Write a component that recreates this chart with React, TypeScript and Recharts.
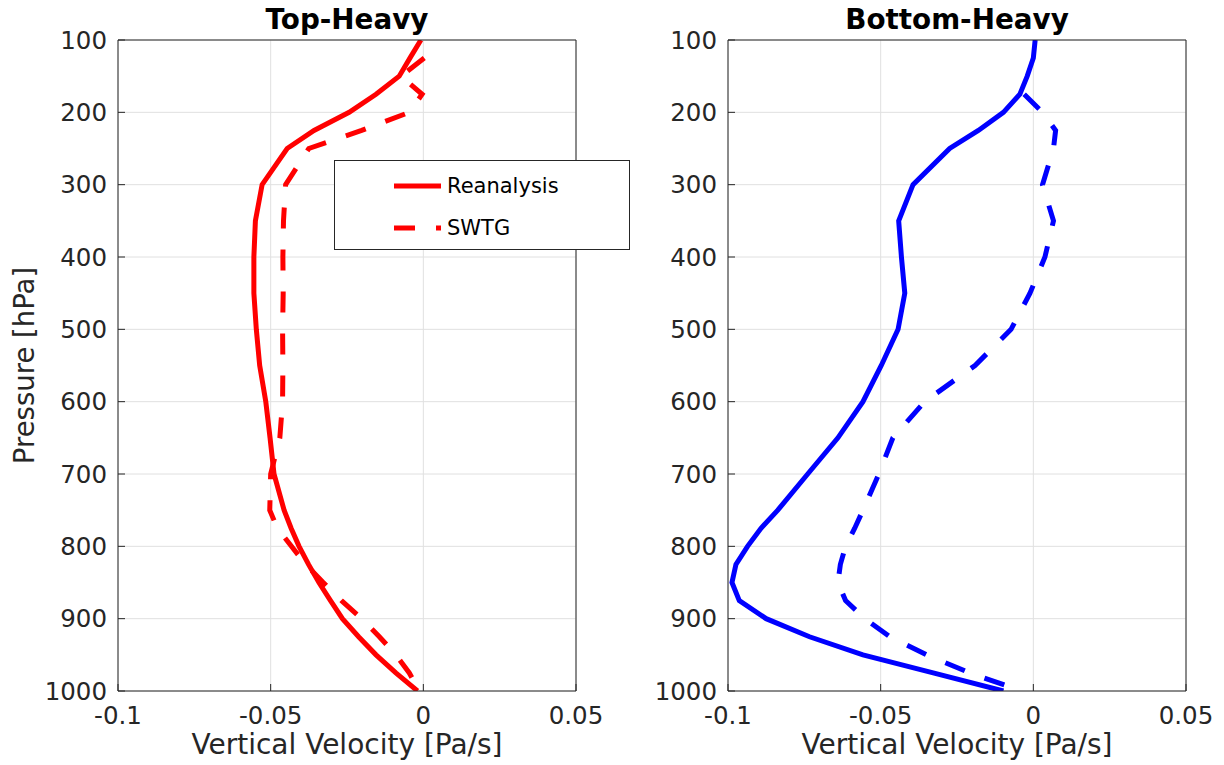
import React from 'react';
import { LineChart, Line, XAxis, YAxis, CartesianGrid, Legend, Label } from 'recharts';

// Pressure levels (hPa) shared by all profiles
const levels = [100, 125, 150, 175, 200, 225, 250, 300, 350, 400, 450, 500, 550, 600, 650, 700, 750, 775, 800, 825, 850, 875, 900, 925, 950, 975, 1000];

// Top-heavy case, omega in Pa/s
const topReanalysis = [-0.0008, -0.0044, -0.0079, -0.0155, -0.0243, -0.0358, -0.0446, -0.0528, -0.055, -0.0555, -0.0555, -0.0547, -0.0536, -0.0516, -0.0502, -0.0489, -0.0456, -0.0433, -0.0407, -0.0376, -0.0342, -0.0304, -0.0265, -0.0212, -0.0155, -0.009, -0.0019];
const topSwtg = [null, 0.0003, -0.0073, -0.0004, -0.0046, -0.0202, -0.0375, -0.0451, -0.0458, -0.046, -0.0459, -0.0461, -0.046, -0.0461, -0.047, -0.05, -0.0503, -0.0478, -0.0432, -0.0385, -0.0328, -0.0268, -0.0202, -0.0144, -0.009, -0.0046, -0.0013];

// Bottom-heavy case
const bottomReanalysis = [0.0006, 0.0, -0.002, -0.0044, -0.0098, -0.018, -0.0274, -0.0394, -0.0441, -0.0432, -0.0421, -0.0443, -0.0498, -0.0558, -0.064, -0.0739, -0.0837, -0.0892, -0.0936, -0.0974, -0.0987, -0.0963, -0.0875, -0.0733, -0.0558, -0.0328, -0.0098];
const bottomSwtg = [null, null, null, -0.003, 0.003, 0.0073, 0.0066, 0.003, 0.0066, 0.0038, -0.0011, -0.0073, -0.0191, -0.0356, -0.046, -0.0506, -0.0558, -0.0585, -0.0615, -0.0632, -0.064, -0.0615, -0.0552, -0.047, -0.035, -0.0208, -0.0038];

const velocityTicks = [-0.1, -0.05, 0, 0.05];
const pressureTicks = [100, 200, 300, 400, 500, 600, 700, 800, 900, 1000];

const FONT = '"DejaVu Sans", Verdana, sans-serif';
const INK = '#262626';
const GRID = '#e0e0e0';
const DASH = '21 21';

const toRows = (rean: (number | null)[], swtg: (number | null)[]) =>
  levels.map((p, i) => ({ p, reanalysis: rean[i], swtg: swtg[i] }));

const PressureLabel = ({ viewBox }: any) => {
  const cx = viewBox.x - 4.5;
  const cy = viewBox.y + viewBox.height / 2;
  return (
    <text x={cx} y={cy} transform={`rotate(-90 ${cx} ${cy})`} textAnchor="middle"
      fontSize={27.5} fontFamily={FONT} fill={INK}>
      Pressure [hPa]
    </text>
  );
};

const LegendBox = ({ payload }: any) => (
  <div style={{
    width: 296, height: 90, boxSizing: 'border-box', border: `1px solid ${INK}`,
    background: '#fff', position: 'relative', fontFamily: FONT, fontSize: 21, color: '#000',
  }}>
    {(payload || []).map((entry: any, i: number) => (
      <div key={entry.value} style={{
        position: 'absolute', left: 59, top: 13 + i * 42, height: 24,
        display: 'flex', alignItems: 'center', whiteSpace: 'nowrap',
      }}>
        <svg width={47} height={24}>
          <line x1={0} x2={47} y1={12} y2={12} stroke={entry.color} strokeWidth={5}
            strokeDasharray={entry.dataKey === 'swtg' ? DASH : undefined} />
        </svg>
        <span style={{ marginLeft: 6, lineHeight: '24px' }}>{entry.value}</span>
      </div>
    ))}
  </div>
);

type PanelProps = {
  title: string;
  rows: any[];
  color: string;
  left: number;
  marginLeft: number;
  marginRight: number;
  withYLabel?: boolean;
  withLegend?: boolean;
};

const tickStyle = { fill: INK, fontSize: 24.5, fontFamily: FONT };

// In the vertical layout the pressure axis already runs top to bottom, 100 hPa at the top.
const Panel = ({ title, rows, color, left, marginLeft, marginRight, withYLabel, withLegend }: PanelProps) => (
  <div style={{ position: 'absolute', left, top: 0 }}>
    <LineChart width={612} height={765} data={rows} layout="vertical"
      margin={{ top: 39, right: marginRight - 1, bottom: 0, left: marginLeft }}>
      <CartesianGrid stroke={GRID} />
      <XAxis type="number" domain={[-0.1, 0.05]} ticks={velocityTicks} allowDataOverflow interval={0}
        height={74} tickSize={-7} tickMargin={23} tick={tickStyle}
        axisLine={{ stroke: INK }} tickLine={{ stroke: INK }}>
        <Label value="Vertical Velocity [Pa/s]" position="insideBottom" offset={11}
          fontSize={28} fontFamily={FONT} fill={INK} />
      </XAxis>
      <XAxis xAxisId="top" orientation="top" type="number" domain={[-0.1, 0.05]} ticks={velocityTicks}
        allowDataOverflow interval={0} height={1} tickSize={-7} tick={false}
        axisLine={{ stroke: INK }} tickLine={{ stroke: INK }}>
        <Label value={title} position="top" offset={10.5} fontSize={27.8} fontWeight="bold"
          fontFamily={FONT} fill="#000" />
      </XAxis>
      <YAxis dataKey="p" type="number" domain={[100, 1000]} ticks={pressureTicks}
        allowDataOverflow interval={0} width={80} tickSize={-7} tickMargin={18} tick={tickStyle}
        axisLine={{ stroke: INK }} tickLine={{ stroke: INK }}>
        {withYLabel && <Label content={<PressureLabel />} />}
      </YAxis>
      <YAxis yAxisId="right" orientation="right" dataKey="p" type="number" domain={[100, 1000]}
        ticks={pressureTicks} allowDataOverflow interval={0} width={1} tickSize={-7}
        tick={false} axisLine={{ stroke: INK }} tickLine={{ stroke: INK }} />
      <Line dataKey="reanalysis" name="Reanalysis" stroke={color} strokeWidth={5} dot={false}
        connectNulls isAnimationActive={false} />
      <Line dataKey="swtg" name="SWTG" stroke={color} strokeWidth={5} strokeDasharray={DASH}
        dot={false} connectNulls isAnimationActive={false} />
      {withLegend && (
        <Legend layout="vertical" align="center" verticalAlign="middle" content={<LegendBox />}
          wrapperStyle={{ left: 334, top: 160, width: 296, height: 90 }} />
      )}
    </LineChart>
  </div>
);

export default function App() {
  return (
    <div style={{ position: 'absolute', left: 0, top: 0, width: 1224, height: 765, background: '#fff' }}>
      <Panel title="Top-Heavy" rows={toRows(topReanalysis, topSwtg)} color="#ff0000"
        left={0} marginLeft={38} marginRight={36} withYLabel withLegend />
      <Panel title="Bottom-Heavy" rows={toRows(bottomReanalysis, bottomSwtg)} color="#0000ff"
        left={612} marginLeft={36} marginRight={38} />
    </div>
  );
}
